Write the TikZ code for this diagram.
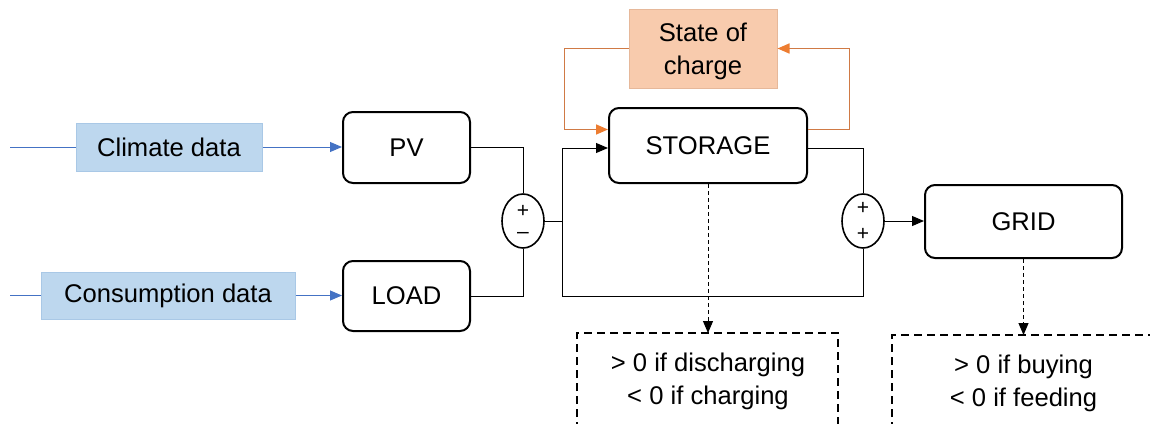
\documentclass[tikz,border=0pt]{standalone}
\usepackage{fontspec}
\setmainfont{Liberation Sans}
\usetikzlibrary{arrows.meta,shapes.geometric}
\definecolor{bluefill}{HTML}{BDD7EE}
\definecolor{blueedge}{HTML}{A9C8E6}
\definecolor{blueline}{HTML}{4472C4}
\definecolor{orangefill}{HTML}{F8CBAD}
\definecolor{orangeedge}{HTML}{E6B89A}
\definecolor{orangeline}{HTML}{D07A45}
\definecolor{orangetip}{HTML}{ED7D31}
\tikzset{
  blk/.style={draw=black, line width=1pt, rounded corners=5pt, fill=white, align=center, inner sep=0pt},
  datab/.style={draw=blueedge, line width=0.5pt, fill=bluefill, inner sep=0pt},
  socb/.style={draw=orangeedge, line width=0.5pt, fill=orangefill, inner sep=0pt},
  sumb/.style={draw=black, line width=0.8pt, ellipse, fill=white, inner sep=0pt, minimum width=21pt, minimum height=27pt},
  sgn/.style={inner sep=0pt, font=\fontsize{10.5}{12}\selectfont},
  wire/.style={draw=black, line width=0.5pt},
  bwire/.style={draw=blueline, line width=0.5pt, -{Triangle[length=6pt,width=5pt]}},
  owire/.style={draw=orangeline, line width=0.8pt, -{Triangle[length=6pt,width=5pt,color=orangetip]}},
  arr/.style={wire, -{Triangle[length=6pt,width=5pt]}},
  darr/.style={draw=black, line width=0.5pt, dash pattern=on 2pt off 1.5pt, -{Triangle[length=6pt,width=5pt]}},
  dbox/.style={draw=black, line width=1pt, dash pattern=on 4pt off 2.5pt},
  txt/.style={align=center, inner sep=0pt},
}
\begin{document}
\begin{tikzpicture}[x=0.5pt,y=-0.5pt,font=\fontsize{12.8}{16.5}\selectfont]
\useasboundingbox (0,0) rectangle (1150,423);
\clip (0,0) rectangle (1150,423);
% blocks
\node[datab, minimum width=93pt, minimum height=24pt] (clim) at (169,147) {Climate data};
\node[datab, minimum width=127pt, minimum height=23.5pt] (cons) at (168,295.5) {Consumption data};
\node[blk, minimum width=63.5pt, minimum height=35.5pt] (pv) at (406.5,147.5) {PV};
\node[blk, minimum width=63.5pt, minimum height=35pt] (load) at (406.5,296) {LOAD};
\node[blk, minimum width=99pt, minimum height=37.5pt] (st) at (708,145.5) {STORAGE};
\node[socb, minimum width=74pt, minimum height=39.5pt] (soc) at (703,48.5) {};
\node[txt] (soct) at (703,51) {State of\\charge};
\node[blk, minimum width=98.5pt, minimum height=36.5pt] (grid) at (1023.5,221.5) {GRID};
\node[sumb] (s1) at (523,221) {};
\node[sumb] (s2) at (863,221) {};
\node[sgn] (s1p) at (523,211) {+};
\node[sgn] (s1m) at (523,235) {–};
\node[sgn] (s2p) at (863,208) {+};
\node[sgn] (s2q) at (863,234) {+};
% inputs
\coordinate (cin) at (10,147);
\coordinate (lin) at (10,295.5);
\draw[blueline, line width=0.5pt] (cin) -- (clim.west);
\draw[bwire] (clim.east) -- (pv.west |- clim.east);
\draw[blueline, line width=0.5pt] (lin) -- (cons.west);
\draw[bwire] (cons.east) -- (load.west |- cons.east);
% summing 1
\draw[wire] (pv.east) -| (s1.north);
\draw[wire] (load.east) -| (s1.south);
\coordinate (j) at (562,221);
\draw[wire] (s1.east) -- (j);
\draw[arr] (j) |- ([yshift=-1.25pt]st.west);
\draw[wire] (j) |- (s2.south |- load.east) -- (s2.south);
% storage to summing 2
\draw[wire] ([yshift=-1.25pt]st.east) -| (s2.north);
\draw[arr] (s2.east) -- (grid.west |- s2.east);
% state of charge loop
\coordinate (ol) at (564.5,48.5);
\coordinate (or) at (849.5,48.5);
\draw[owire] (soc.west) -- (ol) |- ([yshift=-11.25pt]st.north west);
\draw[owire] ([yshift=-11.25pt]st.north east) -| (or) -- (soc.east);
% dashed outputs
\coordinate (b1) at (708,333);
\coordinate (b2) at (1023.5,335);
\draw[darr] (st.south) -- (b1);
\draw[darr] (grid.south) -- (b2);
\draw[dbox] (577,430) -- (577,333) -- (838,333) -- (838,430);
\draw[dbox] (892,430) -- (892,335) -- (1160,335);
\node[txt] (t1) at (708,381.5) {> 0 if discharging\\< 0 if charging};
\node[txt] (t2) at (1023.5,383.5) {> 0 if buying\\< 0 if feeding};
\end{tikzpicture}
\end{document}
